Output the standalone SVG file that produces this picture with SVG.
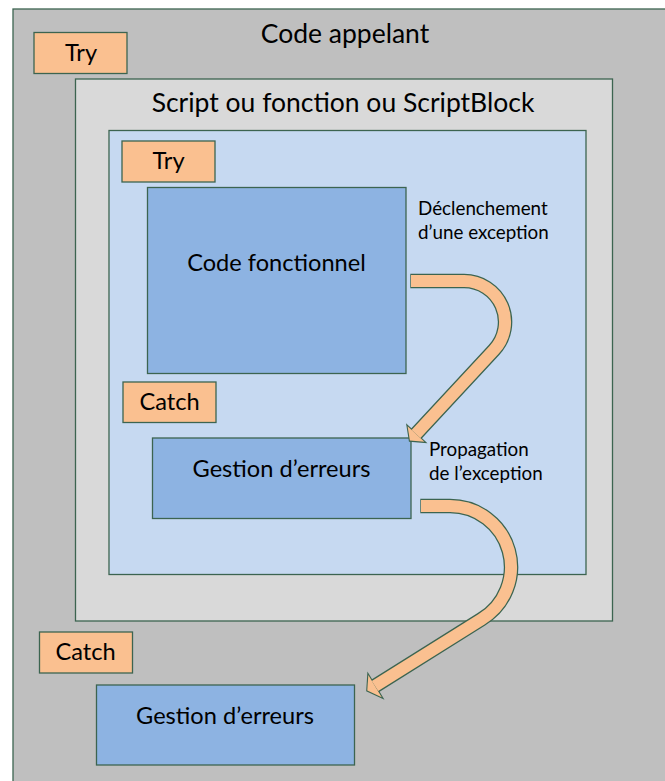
<svg xmlns="http://www.w3.org/2000/svg" width="665" height="781" viewBox="0 0 665 781">
<style>
.b{stroke:#3c6450;stroke-width:1.3}
.outer{fill:#bfbfbf}
.script{fill:#d9d9d9}
.inner{fill:#c6d9f1}
.blue{fill:#8db3e2}
.tag{fill:#fac090}
text{font-family:Lato,"Liberation Sans",sans-serif;fill:#000}
.t1{font-size:26.5px;text-anchor:middle}
.t2{font-size:23.6px;text-anchor:middle}
.t3{font-size:18.8px}
.sh1{fill:none;stroke:#3c6450;stroke-width:14.5}
.sh2{fill:none;stroke:#fac090;stroke-width:12}
.hd1{fill:#3c6450;stroke:#3c6450;stroke-width:2.2;stroke-linejoin:miter}
.hd2{fill:#fac090}
</style>
<rect id="bg" x="0" y="0" width="665" height="781" fill="#ffffff"/>
<g id="code-appelant">
<rect class="outer b" x="13" y="9" width="670" height="790"/>
<text class="t1" x="345" y="43">Code appelant</text>
</g>
<g id="try-outer">
<rect class="tag b" x="34" y="32.5" width="93" height="41"/>
<text class="t2" x="81" y="61">Try</text>
</g>
<g id="script">
<rect class="script b" x="75.5" y="79" width="537" height="542"/>
<text class="t1" x="343" y="112">Script ou fonction ou ScriptBlock</text>
</g>
<g id="inner">
<rect class="inner b" x="109" y="130.5" width="477" height="444"/>
</g>
<g id="try-inner">
<rect class="tag b" x="122" y="141" width="93" height="41"/>
<text class="t2" x="168.5" y="169">Try</text>
</g>
<g id="code-fonctionnel">
<rect class="blue b" x="147.5" y="187.5" width="258.5" height="186"/>
<text class="t2" x="276.5" y="271">Code fonctionnel</text>
</g>
<g id="label-declenchement">
<text class="t3" x="418" y="215">Déclenchement</text>
<text class="t3" x="418" y="239">d’une exception</text>
</g>
<g id="catch-inner">
<rect class="tag b" x="123" y="382" width="93" height="40.5"/>
<text class="t2" x="169.5" y="410">Catch</text>
</g>
<g id="gestion-inner">
<rect class="blue b" x="152.5" y="438" width="258.5" height="80.5"/>
<text class="t2" x="281.5" y="477">Gestion d’erreurs</text>
</g>
<g id="label-propagation">
<text class="t3" x="429" y="456">Propagation</text>
<text class="t3" x="429" y="480">de l’exception</text>
</g>
<g id="catch-outer">
<rect class="tag b" x="39.5" y="632" width="93" height="41"/>
<text class="t2" x="85.5" y="660">Catch</text>
</g>
<g id="gestion-outer">
<rect class="blue b" x="96.5" y="685" width="258" height="80"/>
<text class="t2" x="225" y="724">Gestion d’erreurs</text>
</g>
<g id="connectors">
<path class="sh1" d="M410.3,281 H464 A41,41 0 0 1 494,350 L416,434"/>
<polygon class="hd1" points="407.6,426.2 409.9,440.6 424.4,441.8"/>
<path class="sh2" d="M411,281 H464 A41,41 0 0 1 494,350 L416,434"/>
<polygon class="hd2" points="407.6,426.2 409.9,440.6 424.4,441.8"/>
<path class="sh1" d="M420.3,506 H450 A61,61 0 0 1 481.4,619.3 L375,686"/>
<polygon class="hd1" points="368.3,675 367.3,690.6 381.7,697.3"/>
<path class="sh2" d="M421,506 H450 A61,61 0 0 1 481.4,619.3 L375,686"/>
<polygon class="hd2" points="368.3,675 367.3,690.6 381.7,697.3"/>
</g>
</svg>
